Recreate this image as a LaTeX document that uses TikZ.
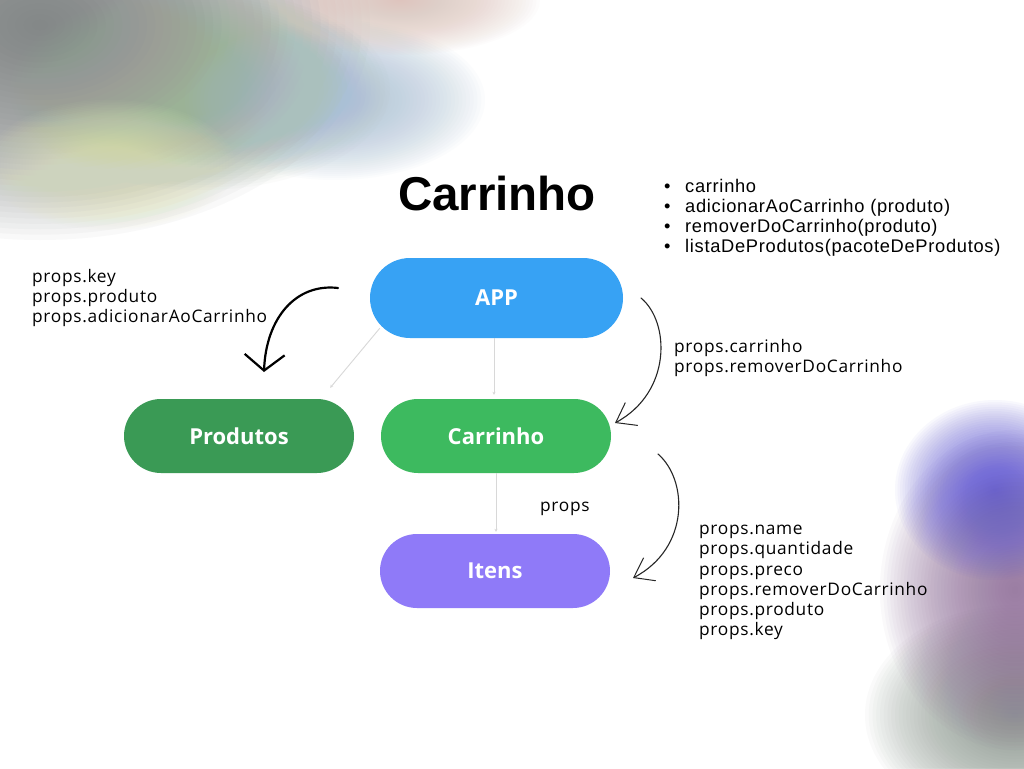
\documentclass[tikz,border=0pt]{standalone}
\usepackage{fontspec}
\setmainfont{Open Sans}
\newfontfamily\titlefont{Liberation Sans}
\newfontfamily\listfont[LetterSpace=3.8]{Liberation Sans}
\newfontfamily\propfont[LetterSpace=4]{Open Sans}
\usetikzlibrary{arrows.meta,calc}

\definecolor{appblue}{HTML}{37A2F4}
\definecolor{prodgreen}{HTML}{3A9A55}
\definecolor{cartgreen}{HTML}{3DBA5F}
\definecolor{itenspurple}{HTML}{8F7AF8}
\definecolor{conngray}{HTML}{D8D8D8}
\definecolor{bgA}{RGB}{112,117,117}
\definecolor{bgB}{RGB}{155,178,150}
\definecolor{bgC}{RGB}{230,236,190}
\definecolor{bgD}{RGB}{170,192,214}
\definecolor{bgE}{RGB}{222,196,186}
\definecolor{bgF}{RGB}{135,148,138}
\definecolor{bgG}{RGB}{140,105,150}
\definecolor{bgH}{RGB}{95,88,215}

% soft blob: colour, cx, cy, rx, ry
\newcommand{\bgblob}[5]{%
  \foreach \k in {1,...,40}{%
    \fill[color=#1, opacity=0.04] (#2,#3) ellipse [x radius={#4*\k/40}, y radius={#5*\k/40}];
  }%
}

\tikzset{
  pill/.style={rectangle, rounded corners=37pt, minimum height=74pt, minimum width=230pt, inner sep=0pt, text=white, font=\bfseries\fontsize{22}{25}\selectfont},
  propstext/.style={anchor=north west, align=left, inner sep=0pt, font=\propfont\fontsize{17.3}{20.2}\selectfont},
  conn/.style={draw=conngray, line width=0.9pt, -{Stealth[length=3pt,width=3pt]}},
  handthick/.style={draw=black, line width=2.2pt, line cap=round, -{Straight Barb[length=16pt,width=40pt,line width=2.2pt]}},
  handthin/.style={draw=black!85, line width=1.1pt, line cap=round, -{Straight Barb[length=18pt,width=26pt,line width=1pt]}}
}

\begin{document}
\begin{tikzpicture}[x=1pt,y=-1pt]
\useasboundingbox (0,0) rectangle (1024,768);
\fill[white] (0,0) rectangle (1024,768);

% background blobs top-left
\bgblob{bgA}{40}{25}{330}{215}
\bgblob{bgB}{200}{90}{190}{100}
\bgblob{bgC}{110}{165}{125}{65}
\bgblob{bgD}{335}{100}{150}{80}
\bgblob{bgE}{400}{0}{140}{55}

% background blobs bottom-right
\bgblob{bgF}{1015}{715}{150}{110}
\bgblob{bgG}{1015}{590}{135}{160}
\bgblob{bgH}{995}{490}{100}{90}

% title
\node[font=\titlefont\bfseries\fontsize{47.5}{52}\selectfont, inner sep=0pt] (title) at (497,194) {Carrinho};

% bullet list
\node[anchor=north west, align=left, inner sep=0pt, font=\listfont\fontsize{18.3}{20}\selectfont] (state) at (664,179)
  {\makebox[21pt][l]{\textbullet}carrinho\\
   \makebox[21pt][l]{\textbullet}adicionarAoCarrinho (produto)\\
   \makebox[21pt][l]{\textbullet}removerDoCarrinho(produto)\\
   \makebox[21pt][l]{\textbullet}listaDeProdutos(pacoteDeProdutos)};

% nodes
\node[pill, fill=appblue, minimum width=253pt, minimum height=80pt, rounded corners=40pt] (app) at (496.5,298) {APP};
\node[pill, fill=prodgreen] (prod) at (239,436) {Produtos};
\node[pill, fill=cartgreen] (cart) at (496,436) {Carrinho};
\node[pill, fill=itenspurple] (itens) at (495,571) {Itens};

% gray connectors
\draw[conn] ($(app.south west)+(10,-10)$) -- ($(prod.north east)+(-24,-11)$);
\draw[conn] ($(app.south)+(-2.5,0)$) -- ($(cart.north)+(-2,-4)$);
\draw[conn] (cart.south) -- ($(itens.north)+(1,-2)$);

% prop labels
\node[propstext] (lprops) at (32,269) {props.key\\props.produto\\props.adicionarAoCarrinho};
\node[propstext] (cprops) at (674,339) {props.carrinho\\props.removerDoCarrinho};
\node[propstext] (iprop) at (540,502) {props};
\node[propstext] (rprops) at (699,525) {props.name\\props.quantidade\\props.preco\\props.removerDoCarrinho\\props.produto\\props.key};

% hand-drawn arrows
\coordinate (h1s) at (338,288);
\coordinate (h1e) at (264,372);
\coordinate (h2s) at (641,298);
\coordinate (h2e) at (615,423);
\coordinate (h3s) at (658,454);
\coordinate (h3e) at (633,578);
\draw[handthick] (h1s) .. controls (296,283) and (266,318) .. (h1e);
\draw[handthin] (h2s) .. controls (670,322) and (672,392) .. (h2e);
\draw[handthin] (h3s) .. controls (688,480) and (690,548) .. (h3e);
\end{tikzpicture}
\end{document}
